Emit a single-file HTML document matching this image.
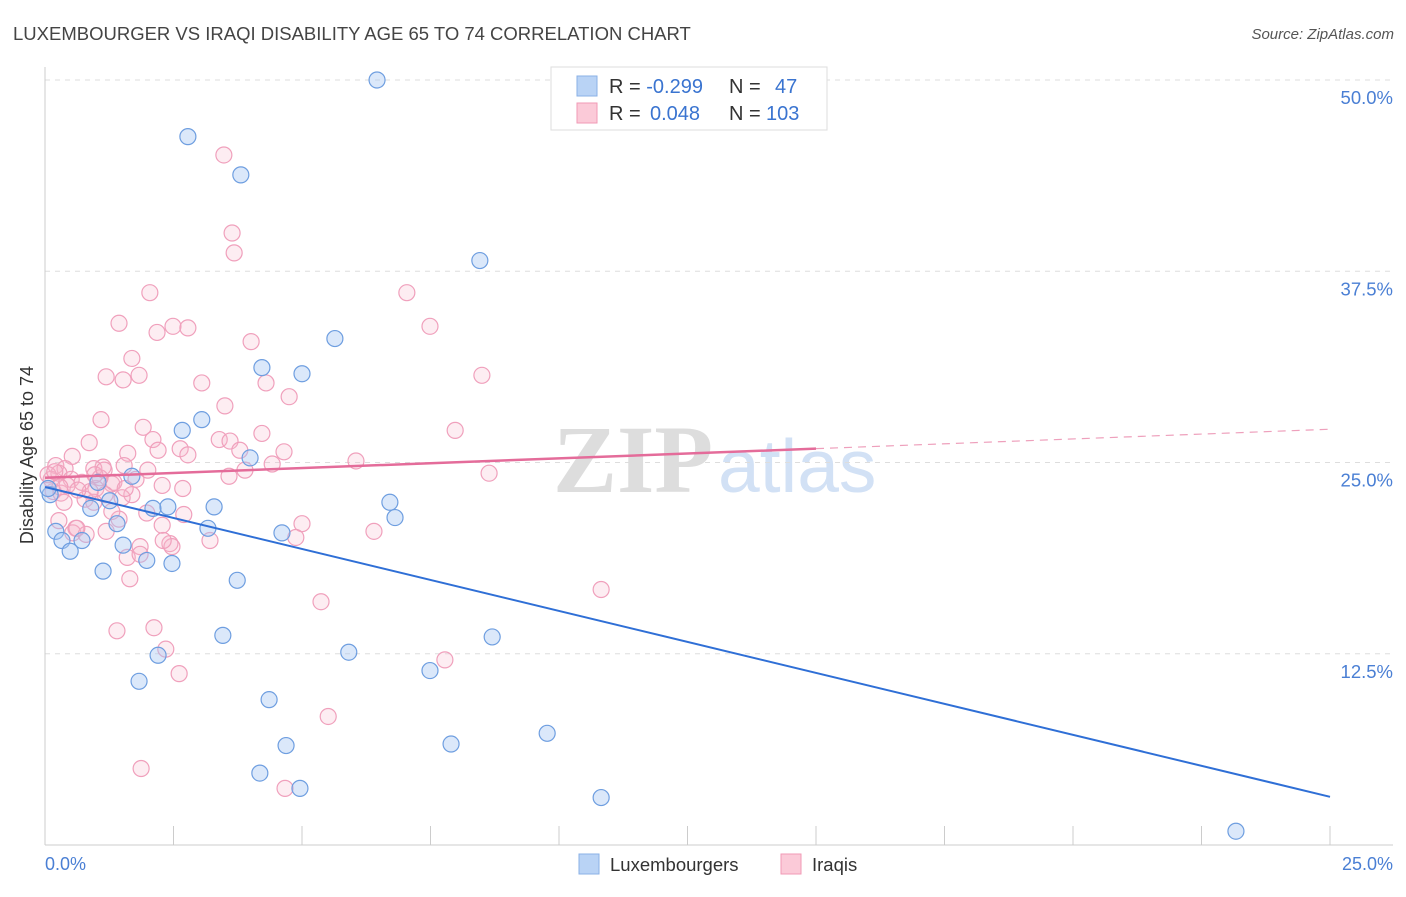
<!DOCTYPE html>
<html><head><meta charset="utf-8"><style>
body{margin:0;background:#fff;font-family:"Liberation Sans",sans-serif}
svg text{font-family:"Liberation Sans",sans-serif}
</style></head><body>
<svg id="chart" width="1406" height="892" xmlns="http://www.w3.org/2000/svg">
<text x="13" y="40" font-size="18.5" fill="#444">LUXEMBOURGER VS IRAQI DISABILITY AGE 65 TO 74 CORRELATION CHART</text>
<text x="1394" y="39" font-size="15" fill="#555" font-style="italic" text-anchor="end">Source: ZipAtlas.com</text>
<g>
<text x="553" y="492" font-size="96" fill="#ddd" font-weight="bold" style="font-family:'Liberation Serif',serif">ZIP</text>
<text x="718" y="492" font-size="75" fill="#d2e1f5">atlas</text>
</g>
<g id="grid"></g>
<g id="axes"></g>
<g id="pts"></g>
<g id="trends"></g>
<text transform="translate(33,455) rotate(-90)" font-size="18" fill="#333" text-anchor="middle">Disability Age 65 to 74</text>
<text x="45" y="870" font-size="18" fill="#4a7fd4">0.0%</text>
<text x="1393" y="870" font-size="18" fill="#4a7fd4" text-anchor="end">25.0%</text>
<g>
<rect x="551" y="67" width="276" height="63" fill="#fff" stroke="#ddd"/>
<rect x="577" y="76" width="20" height="20" fill="#b9d3f5" stroke="#8ab0e6"/>
<rect x="577" y="103" width="20" height="20" fill="#fbcad8" stroke="#f09ab6"/>
<text x="609" y="93" font-size="20" fill="#333">R = <tspan fill="#3a74d0">-0.299</tspan><tspan x="729">N =</tspan><tspan x="775" fill="#3a74d0">47</tspan></text>
<text x="609" y="120" font-size="20" fill="#333">R = <tspan x="650" fill="#3a74d0">0.048</tspan><tspan x="729">N =</tspan><tspan x="766" fill="#3a74d0">103</tspan></text>
</g>
<g>
<rect x="579" y="854" width="20" height="20" fill="#b9d3f5" stroke="#8ab0e6"/>
<text x="610" y="871" font-size="18.5" fill="#333">Luxembourgers</text>
<rect x="781" y="854" width="20" height="20" fill="#fbcad8" stroke="#f09ab6"/>
<text x="812" y="871" font-size="18.5" fill="#333">Iraqis</text>
</g>
</svg>
<script>
const yTicks=[12.5,25,37.5,50];
const yTickLabels=["12.5%","25.0%","37.5%","50.0%"];
const blueX=[6.46,2.78,3.81,8.46,5.64,4.22,5.0,3.05,2.67,3.99,1.69,0.1,1.03,1.26,0.89,2.39,2.1,3.29,6.71,6.81,1.4,3.17,4.61,0.21,0.33,0.72,1.52,0.49,1.98,2.47,1.13,3.74,3.46,8.7,2.2,5.91,7.49,1.83,4.36,9.77,7.9,4.69,4.18,4.96,10.82,23.17,0.06];
const blueY=[50.0,46.3,43.8,38.2,33.1,31.2,30.8,27.8,27.1,25.3,24.1,22.9,23.7,22.5,22.0,22.1,22.0,22.1,22.4,21.4,21.0,20.7,20.4,20.5,19.9,19.9,19.6,19.2,18.6,18.4,17.9,17.3,13.7,13.6,12.4,12.6,11.4,10.7,9.5,7.3,6.6,6.5,4.7,3.7,3.1,0.9,23.3];
const pinkX=[3.48,3.64,3.68,2.04,7.04,1.44,2.49,2.18,2.78,7.49,4.01,1.69,1.19,1.52,1.83,3.05,4.3,8.5,4.75,3.5,1.09,1.91,7.98,4.22,3.39,3.6,2.1,0.86,2.63,3.79,2.2,4.65,1.61,0.53,6.05,4.42,0.21,1.13,0.95,2.0,1.54,0.39,8.64,3.58,0.27,1.77,0.51,1.3,2.28,0.72,1.34,2.68,0.99,0.16,0.31,1.69,1.17,1.5,0.78,0.37,0.95,1.98,1.44,1.3,2.7,0.27,2.28,5.0,6.4,0.6,0.54,1.19,0.8,4.88,3.21,2.43,2.47,1.85,0.62,1.6,10.82,1.65,5.37,2.12,1.4,2.35,7.78,2.61,5.51,1.87,4.67,0.12,0.06,0.19,0.43,1.07,0.88,1.56,0.29,0.64,0.97,1.85,2.3,2.78,3.89,1.15];
const pinkY=[45.1,40.0,38.7,36.1,36.1,34.1,33.9,33.5,33.8,33.9,32.9,31.8,30.6,30.4,30.7,30.2,30.2,30.7,29.3,28.7,27.8,27.3,27.1,26.9,26.5,26.4,26.5,26.3,25.9,25.8,25.8,25.7,25.6,25.4,25.1,24.9,24.8,24.7,24.6,24.5,24.8,24.6,24.3,24.1,24.3,23.9,23.9,23.6,23.5,23.7,23.7,23.3,23.3,23.1,23.0,22.9,22.9,22.7,22.6,22.4,22.4,21.7,21.3,21.8,21.6,21.2,20.9,21.0,20.5,20.7,20.4,20.5,20.3,20.1,19.9,19.7,19.5,19.5,20.7,18.8,16.7,17.4,15.9,14.2,14.0,12.8,12.1,11.2,8.4,5.0,3.7,23.9,24.2,24.4,23.5,24.0,23.1,23.3,23.4,23.2,24.2,19.0,19.9,25.5,24.5,24.5];
const blueTrend=[23.4,-0.81];
const pinkTrend=[24.0,0.127];
const NS="http://www.w3.org/2000/svg";
const sx=v=>45+v*51.4;
const sy=v=>845-v*15.3;
function mk(tag,attrs,parent){const e=document.createElementNS(NS,tag);for(const k in attrs)e.setAttribute(k,attrs[k]);parent.appendChild(e);return e;}
const grid=document.getElementById('grid'),axes=document.getElementById('axes');
yTicks.forEach((t,i)=>{
  const l=mk('line',{x1:45,x2:1393,y1:sy(t),y2:sy(t),stroke:'#ddd','stroke-dasharray':'5,5'},grid);
  
  
  const tx=mk('text',{x:1393,y:sy(t)+24,'font-size':18.5,fill:'#4a7fd4','text-anchor':'end'},grid);
  tx.textContent=yTickLabels[i];
  
  
});
const la=mk('line',{x1:45,x2:45,y1:67,y2:845,stroke:'#ccc'},axes);


const lb=mk('line',{x1:45,x2:1393,y1:845,y2:845,stroke:'#ccc'},axes);


for(let i=0;i<=10;i++){
  const t=mk('line',{x1:sx(i*2.5),x2:sx(i*2.5),y1:826,y2:845,stroke:'#ccc'},axes);
  
  
}
const pts=document.getElementById('pts');
pinkX.forEach((x,i)=>{
  const c=mk('circle',{cx:sx(x),cy:sy(pinkY[i]),r:8,fill:'rgba(248,185,205,0.25)',stroke:'#f0a0bc','stroke-width':1.2},pts);
  
  
});
blueX.forEach((x,i)=>{
  const c=mk('circle',{cx:sx(x),cy:sy(blueY[i]),r:8,fill:'rgba(165,198,242,0.4)',stroke:'#6e9ee0','stroke-width':1.2},pts);
  
  
});
const tr=document.getElementById('trends');
const b=mk('line',{x1:sx(0),y1:sy(blueTrend[0]),x2:sx(25),y2:sy(blueTrend[0]+blueTrend[1]*25),stroke:'#2f6fd6','stroke-width':2},tr);


const p1=mk('line',{x1:sx(0),y1:sy(pinkTrend[0]),x2:sx(15),y2:sy(pinkTrend[0]+pinkTrend[1]*15),stroke:'#e46c9a','stroke-width':2.5},tr);


const p2=mk('line',{x1:sx(15),y1:sy(pinkTrend[0]+pinkTrend[1]*15),x2:sx(25),y2:sy(pinkTrend[0]+pinkTrend[1]*25),stroke:'#eea0bc','stroke-width':1.2,'stroke-dasharray':'8,6'},tr);


</script>
</body></html>
